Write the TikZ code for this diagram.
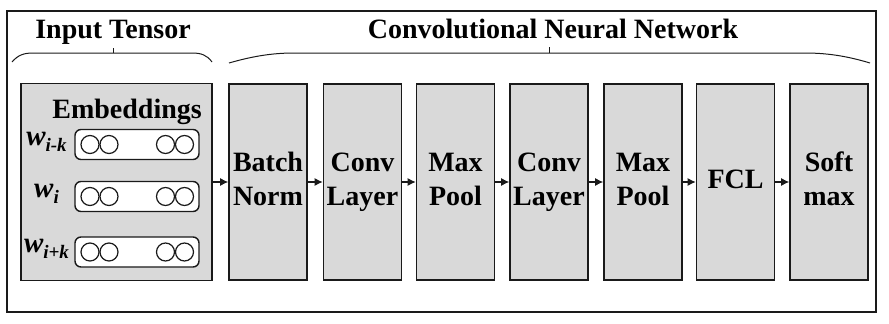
\documentclass[tikz,border=0pt]{standalone}
\usepackage{fontspec}
\setmainfont{Liberation Serif}
\usetikzlibrary{arrows.meta}
\definecolor{boxgray}{HTML}{D9D9D9}
\definecolor{edge}{HTML}{1A1A1A}
\tikzset{
  layer/.style={draw=edge, line width=1.6pt, fill=boxgray, minimum width=78pt, minimum height=196pt, inner sep=0pt, align=center, font=\fontsize{28}{33.6}\selectfont\bfseries},
  embrow/.style={draw=edge, line width=1.4pt, fill=white, rounded corners=6pt, minimum width=124pt, minimum height=30pt, inner sep=0pt},
  dot/.style={draw=edge, line width=1.2pt, circle, minimum size=18pt, inner sep=0pt},
  wlabel/.style={anchor=base, inner sep=0pt, font=\fontsize{29}{30}\selectfont\bfseries\itshape},
  title/.style={anchor=base, inner sep=0pt, font=\fontsize{28}{30}\selectfont\bfseries},
  brace/.style={draw=edge, line width=1pt},
  flow/.style={draw=edge, line width=1.2pt, -{Latex[length=8pt,width=8pt]}}
}
\newcommand{\wsub}[1]{w\raisebox{-6pt}{\fontsize{19}{19}\selectfont #1}}
\newcommand{\twol}[2]{\strut #1\\\strut #2}
\begin{document}
\begin{tikzpicture}[x=1pt,y=-1pt]
\useasboundingbox (0,0) rectangle (889,324);
\draw[draw=edge, line width=1.6pt] (7,11) rectangle (876,312);

% titles and braces
\node[title] (tin) at (113,38) {Input Tensor};
\node[title] (tcnn) at (553,38) {Convolutional Neural Network};
\draw[brace] (12,62) .. controls (18,55) and (24,53) .. (33,53) -- (192,53) .. controls (201,53) and (207,55) .. (212,62);
\draw[brace] (113,53) -- (113,48);
\draw[brace] (229,63) .. controls (250,57) and (270,53) .. (294,53) -- (805,53) .. controls (830,53) and (850,57) .. (870,63);
\draw[brace] (549,53) -- (549,47);

% input tensor
\node[draw=edge, line width=1.6pt, fill=boxgray, minimum width=191pt, minimum height=197pt, inner sep=0pt] (inp) at (116.5,182) {};
\node[title, anchor=base east] (emb) at (202,118) {Embeddings};
\foreach \n/\y/\s in {r1/144.5/{i-k}, r2/196.5/{i}, r3/252/{i+k}}{
  \node[embrow] (\n) at (137,\y) {};
  \node[dot] (\n a) at (90,\y) {};
  \node[dot] (\n b) at (109,\y) {};
  \node[dot] (\n c) at (165.5,\y) {};
  \node[dot] (\n d) at (184.5,\y) {};
  \node[wlabel] (\n w) at (46.5,\y+0.5) {\wsub{\s}};
}

% CNN layers
\node[layer] (bn) at (268,182) {\twol{Batch}{Norm}};
\node[layer] (c1) at (362.5,182) {\twol{Conv}{Layer}};
\node[layer] (p1) at (455.5,182) {\twol{Max}{Pool}};
\node[layer] (c2) at (549,182) {\twol{Conv}{Layer}};
\node[layer] (p2) at (643,182) {\twol{Max}{Pool}};
\node[layer] (fcl) at (735.5,182) {\strut FCL};
\node[layer] (sm) at (829,182) {\twol{Soft}{max}};

\draw[flow] (inp.east) -- (bn.west);
\draw[flow] (bn.east) -- (c1.west);
\draw[flow] (c1.east) -- (p1.west);
\draw[flow] (p1.east) -- (c2.west);
\draw[flow] (c2.east) -- (p2.west);
\draw[flow] (p2.east) -- (fcl.west);
\draw[flow] (fcl.east) -- (sm.west);
\end{tikzpicture}
\end{document}
